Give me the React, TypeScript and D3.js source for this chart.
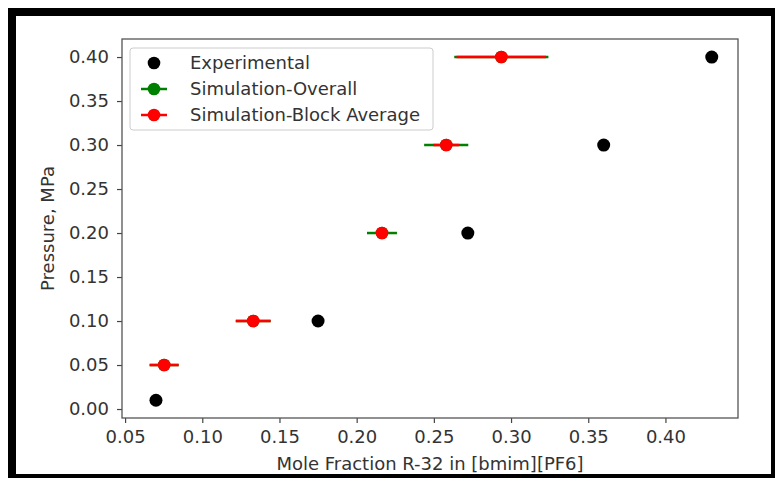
import React, { useEffect, useRef } from "react";
import * as d3 from "d3";

// values
const expX = [0.07, 0.175, 0.272, 0.36, 0.43];
const expY = [0.01, 0.1, 0.2, 0.3, 0.4];
const simX = [0.0753, 0.133, 0.2164, 0.258, 0.2937];
const simY = [0.05, 0.1, 0.2, 0.3, 0.4];
const overallErr = [0.0094, 0.0113, 0.0097, 0.0143, 0.0305];
const blockErr = [0.0094, 0.0113, 0.004, 0.0083, 0.029];
const xTicks = [0.05, 0.1, 0.15, 0.2, 0.25, 0.3, 0.35, 0.4];
const yTicks = [0, 0.05, 0.1, 0.15, 0.2, 0.25, 0.3, 0.35, 0.4];
const legendLabels = ["Experimental", "Simulation-Overall", "Simulation-Block Average"];
const colors = ["#000000", "#008000", "#ff0000"];

const App = () => {
  const svgRef = useRef<SVGSVGElement | null>(null);

  useEffect(() => {
    const width = 775;
    const height = 478;
    const plot = { left: 122, right: 738, top: 39, bottom: 418 };
    const font = "DejaVu Sans, sans-serif";
    const fs = 18;

    const svg = d3.select(svgRef.current);
    svg.selectAll("*").remove();
    svg.attr("width", width).attr("height", height);

    svg.append("rect").attr("width", width).attr("height", height).attr("fill", "#fff");

    // outer black frame of the picture
    svg.append("rect")
      .attr("x", 12).attr("y", 12)
      .attr("width", 763).attr("height", 466)
      .attr("fill", "none").attr("stroke", "#000").attr("stroke-width", 8);

    const x = d3.scaleLinear().domain([0.048, 0.447]).range([plot.left, plot.right]);
    const y = d3.scaleLinear().domain([-0.0102, 0.4205]).range([plot.bottom, plot.top]);

    // axes
    const gx = svg.append("g")
      .attr("transform", `translate(0,${plot.bottom})`)
      .call(d3.axisBottom(x).tickValues(xTicks).tickFormat(d3.format(".2f")).tickSize(5).tickPadding(7));
    const gy = svg.append("g")
      .attr("transform", `translate(${plot.left},0)`)
      .call(d3.axisLeft(y).tickValues(yTicks).tickFormat(d3.format(".2f")).tickSize(5).tickPadding(8));
    [gx, gy].forEach((g) => {
      g.select(".domain").remove();
      g.selectAll("line").attr("stroke", "#444").attr("stroke-width", 1.2);
      g.selectAll("text").attr("fill", "#333").attr("font-size", fs).attr("font-family", font);
    });

    // spines
    svg.append("rect")
      .attr("x", plot.left).attr("y", plot.top)
      .attr("width", plot.right - plot.left).attr("height", plot.bottom - plot.top)
      .attr("fill", "none").attr("stroke", "#555").attr("stroke-width", 1.3);

    // axis titles
    svg.append("text")
      .attr("x", (plot.left + plot.right) / 2).attr("y", 470)
      .attr("text-anchor", "middle")
      .attr("font-size", fs).attr("font-family", font).attr("fill", "#333")
      .text("Mole Fraction R-32 in [bmim][PF6]");
    svg.append("text")
      .attr("transform", `translate(54,${(plot.top + plot.bottom) / 2}) rotate(-90)`)
      .attr("text-anchor", "middle")
      .attr("font-size", fs).attr("font-family", font).attr("fill", "#333")
      .text("Pressure, MPa");

    // error bars + markers for a simulation series
    const drawSeries = (err: number[], color: string) => {
      const g = svg.append("g");
      g.selectAll("line")
        .data(simX)
        .enter()
        .append("line")
        .attr("x1", (d, i) => x(d - err[i]))
        .attr("x2", (d, i) => x(d + err[i]))
        .attr("y1", (d, i) => y(simY[i]))
        .attr("y2", (d, i) => y(simY[i]))
        .attr("stroke", color)
        .attr("stroke-width", 2.5);
      g.selectAll("circle")
        .data(simX)
        .enter()
        .append("circle")
        .attr("cx", (d) => x(d))
        .attr("cy", (d, i) => y(simY[i]))
        .attr("r", 6.3)
        .attr("fill", color);
    };

    svg.append("g").selectAll("circle")
      .data(expX)
      .enter()
      .append("circle")
      .attr("cx", (d) => x(d))
      .attr("cy", (d, i) => y(expY[i]))
      .attr("r", 6.5)
      .attr("fill", colors[0]);

    drawSeries(overallErr, colors[1]);
    drawSeries(blockErr, colors[2]);

    // legend
    const legend = svg.append("g");
    legend.append("rect")
      .attr("x", 130).attr("y", 48)
      .attr("width", 303).attr("height", 82)
      .attr("rx", 3)
      .attr("fill", "#fff").attr("fill-opacity", 0.8)
      .attr("stroke", "#ccc");
    legendLabels.forEach((label, i) => {
      const ly = 63 + i * 26;
      if (i > 0) {
        legend.append("line")
          .attr("x1", 141).attr("x2", 167)
          .attr("y1", ly).attr("y2", ly)
          .attr("stroke", colors[i]).attr("stroke-width", 2.5);
      }
      legend.append("circle")
        .attr("cx", 154).attr("cy", ly).attr("r", 6.3).attr("fill", colors[i]);
      legend.append("text")
        .attr("x", 190).attr("y", ly).attr("dy", "0.35em")
        .attr("font-size", fs).attr("font-family", font).attr("fill", "#333")
        .text(label);
    });
  }, []);

  return (
    <div>
      <svg ref={svgRef} style={{ position: "absolute", left: 0, top: 0 }}></svg>
    </div>
  );
};

export default App;
